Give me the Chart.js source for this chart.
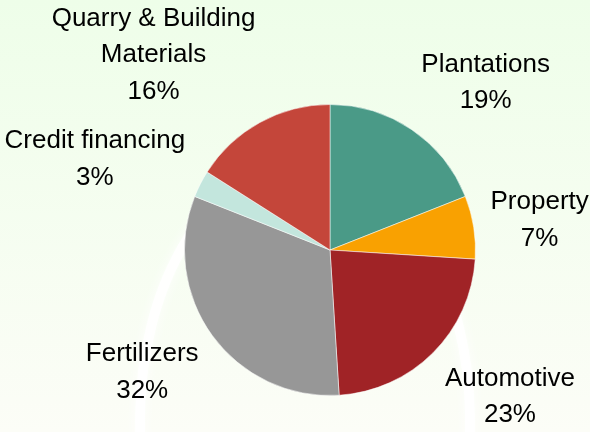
<!DOCTYPE html>
<html>
<head>
<meta charset="utf-8">
<script src="https://cdn.jsdelivr.net/npm/chart.js@4/dist/chart.umd.min.js"></script>
<style>
  html, body { margin: 0; padding: 0; }
  #wrap { width: 590px; height: 432px; position: relative; }
</style>
</head>
<body>
<div id="wrap"><canvas id="myChart"></canvas></div>
<script>
// data, clockwise from 12 o'clock
const categories = ["Plantations", "Property", "Automotive", "Fertilizers", "Credit financing", "Quarry & Building Materials"];
const labelLines = [["Plantations"], ["Property"], ["Automotive"], ["Fertilizers"], ["Credit financing"], ["Quarry & Building", "Materials"]];
const shares = [19, 7, 23, 32, 3, 16];
const sliceColors = ["#4a9a87", "#f9a101", "#a02326", "#979797", "#c3e6dd", "#c4463a"];

const fontSize = 26;
const lineH = 36.5;

// soft green background + white oval glow behind the pie
const bgPlugin = {
    id: "bg",
    beforeDraw: (chart) => {
        const ctx = chart.ctx;
        const g = ctx.createLinearGradient(0, 0, 0, chart.height);
        g.addColorStop(0, "#eefee9");
        g.addColorStop(1, "#fcfdf7");
        ctx.save();
        ctx.fillStyle = g;
        ctx.fillRect(0, 0, chart.width, chart.height);

        const arc = chart.getDatasetMeta(0).data[0];
        ctx.beginPath();
        ctx.ellipse(arc.x - 25, arc.y + 170, 165, 258, 0, 0, Math.PI * 2);
        ctx.strokeStyle = "rgba(255,255,255,0.85)";
        ctx.lineWidth = 10;
        ctx.shadowColor = "#ffffff";
        ctx.shadowBlur = 12;
        ctx.stroke();
        ctx.restore();
    }
};

// outside labels, placed at each slice's mid angle
const labelPlugin = {
    id: "outLabels",
    afterDatasetsDraw: (chart) => {
        const ctx = chart.ctx;
        const meta = chart.getDatasetMeta(0);
        ctx.save();
        ctx.font = fontSize + "px 'Liberation Sans', Arial, sans-serif";
        ctx.fillStyle = "#000000";
        ctx.textAlign = "center";
        ctx.textBaseline = "alphabetic";
        meta.data.forEach((arc, i) => {
            const mid = (arc.startAngle + arc.endAngle) / 2;
            const dx = Math.cos(mid), dy = Math.sin(mid);
            const r = arc.outerRadius + 17;
            const ax = arc.x + dx * r, ay = arc.y + dy * r;

            const lines = labelLines[i].concat([shares[i] + "%"]);
            let w = 0;
            lines.forEach((l) => { w = Math.max(w, ctx.measureText(l).width); });
            const h = lines.length * lineH;

            const kx = Math.max(-1, Math.min(1, dx * 2));
            const ky = Math.max(-1, Math.min(1, dy * 1.15));
            const cx = ax + kx * w / 2;
            const cy = ay + ky * h / 2;

            lines.forEach((l, j) => {
                const base = cy - h / 2 + j * lineH + lineH * 0.5 + fontSize * 0.36;
                ctx.fillText(l, cx, base);
            });
        });
        ctx.restore();
    }
};

const data = {
    labels: categories,
    datasets: [{
        data: shares,
        backgroundColor: sliceColors,
        borderColor: "rgba(255,255,255,0.5)",
        borderWidth: 1
    }]
};

const config = {
    type: "pie",
    data: data,
    options: {
        responsive: true,
        maintainAspectRatio: false,
        animation: false,
        layout: { padding: { top: 104, bottom: 36, left: 184, right: 114 } },
        plugins: {
            legend: { display: false },
            tooltip: { enabled: false }
        }
    },
    plugins: [bgPlugin, labelPlugin]
};

let myChart = new Chart(document.getElementById("myChart"), config);
</script>
</body>
</html>
